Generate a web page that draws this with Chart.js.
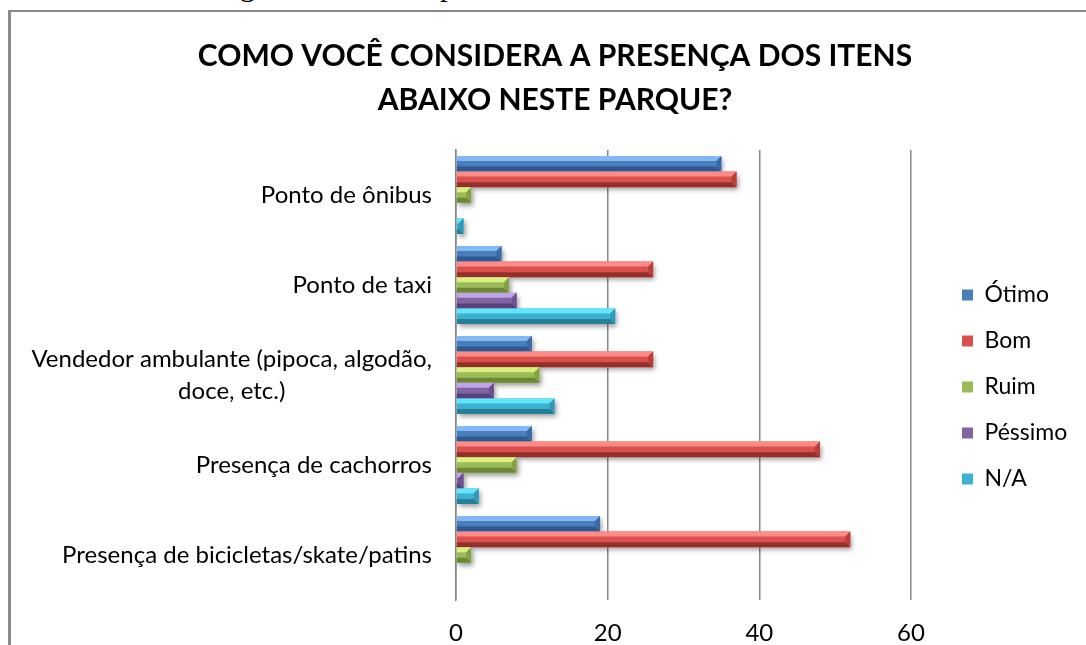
<!DOCTYPE html>
<html>
<head>
<meta charset="utf-8">
<script src="https://cdn.jsdelivr.net/npm/chart.js"></script>
<style>
body { margin: 0; background: #fff; }
#pagina { position: relative; width: 1086px; height: 645px; overflow: hidden; background: #fff; }
#moldura { position: absolute; left: 8px; top: 10px; width: 1200px; height: 800px; border-left: 3px solid #8a8a8a; border-top: 2px solid #8a8a8a; }
.texto-doc { position: absolute; top: -29px; font-family: "Liberation Serif"; font-size: 30px; line-height: 30px; color: #000; }
canvas { position: absolute; left: 0; top: 0; }
</style>
</head>
<body>
<div id="pagina">
  <div id="moldura"></div>
  <span class="texto-doc" style="left:240px">g</span>
  <span class="texto-doc" style="left:440px">p</span>
  <canvas id="grafico_itens" width="1086" height="645"></canvas>
</div>
<script>
var titulo = ['COMO VOCÊ CONSIDERA A PRESENÇA DOS ITENS', 'ABAIXO NESTE PARQUE?'];
var categorias = [
    'Ponto de ônibus',
    'Ponto de taxi',
    ['Vendedor ambulante (pipoca, algodão,', 'doce, etc.)'],
    'Presença de cachorros',
    'Presença de bicicletas/skate/patins'
];
var series = ['Ótimo', 'Bom', 'Ruim', 'Péssimo', 'N/A'];
var otimo = [35, 6, 10, 10, 19];
var bom = [37, 26, 26, 48, 52];
var ruim = [2, 7, 11, 8, 2];
var pessimo = [0, 8, 5, 1, 0];
var na = [1, 21, 13, 3, 0];
var ticksX = [0, 20, 40, 60];

// cores: face da barra, chanfro claro (cima), chanfro escuro (baixo), ponta
var corFace = ['#4a7ebb', '#d9504c', '#9bbb59', '#8064a2', '#3eb0d0'];
var corClaro = ['#82b8f5', '#ff8a86', '#d8f080', '#c0a3e8', '#62e6fb'];
var corEscuro = ['#2c5a92', '#942f2c', '#6a8830', '#58417a', '#267e98'];
var corPonta = ['#3a6aa6', '#b83f3b', '#84a244', '#6c528e', '#3298b6'];

var fonte = 'Lato';

function caixa(barra) {
    var p = barra.getProps(['x', 'y', 'base', 'height'], true);
    var x0 = Math.min(p.x, p.base), x1 = Math.max(p.x, p.base);
    return { x: x0, y: p.y - p.height / 2, w: x1 - x0, h: p.height };
}

function poligono(ctx, pontos, cor) {
    ctx.beginPath();
    ctx.moveTo(pontos[0][0], pontos[0][1]);
    for (var k = 1; k < pontos.length; k++) ctx.lineTo(pontos[k][0], pontos[k][1]);
    ctx.closePath();
    ctx.fillStyle = cor;
    ctx.fill();
}

// sombra e chanfro das barras
var relevo = {
    id: 'relevo',
    beforeDatasetsDraw: function (chart) {
        var ctx = chart.ctx;
        ctx.save();
        ctx.shadowColor = 'rgba(0,0,0,0.4)';
        ctx.shadowBlur = 5;
        ctx.shadowOffsetX = 2;
        ctx.shadowOffsetY = 3;
        ctx.fillStyle = '#fff';
        chart.getSortedVisibleDatasetMetas().forEach(function (meta) {
            meta.data.forEach(function (barra) {
                var r = caixa(barra);
                if (r.w < 0.5) return;
                ctx.fillRect(r.x, r.y, r.w, r.h);
            });
        });
        ctx.restore();
    },
    afterDatasetsDraw: function (chart) {
        var ctx = chart.ctx;
        ctx.save();
        chart.getSortedVisibleDatasetMetas().forEach(function (meta) {
            var i = meta.index;
            meta.data.forEach(function (barra) {
                var r = caixa(barra);
                if (r.w < 0.5) return;
                var b = Math.min(r.h * 0.32, r.w);
                var x1 = r.x + r.w, yb = r.y + r.h;
                poligono(ctx, [[r.x, r.y], [x1, r.y], [x1 - b, r.y + b], [r.x, r.y + b]], corClaro[i]);
                poligono(ctx, [[r.x, yb], [x1, yb], [x1 - b, yb - b], [r.x, yb - b]], corEscuro[i]);
                poligono(ctx, [[x1, r.y], [x1, yb], [x1 - b, yb - b], [x1 - b, r.y + b]], corPonta[i]);
            });
        });
        ctx.restore();
    }
};

// rotulos das categorias: bloco alinhado a direita, linhas centralizadas
var rotulosY = {
    id: 'rotulosY',
    afterDraw: function (chart) {
        var ctx = chart.ctx, escala = chart.scales.y;
        var direita = chart.chartArea.left - 24;
        ctx.save();
        ctx.font = '24px ' + fonte;
        ctx.fillStyle = '#000';
        ctx.textBaseline = 'middle';
        ctx.textAlign = 'center';
        categorias.forEach(function (rotulo, i) {
            var linhas = [].concat(rotulo);
            var largura = Math.max.apply(null, linhas.map(function (t) { return ctx.measureText(t).width; }));
            var yc = escala.getPixelForValue(i);
            linhas.forEach(function (t, k) {
                ctx.fillText(t, direita - largura / 2, yc + (k - (linhas.length - 1) / 2) * 32);
            });
        });
        ctx.restore();
    }
};

// legenda um pouco mais para a direita e para baixo
var ajusteLegenda = {
    id: 'ajusteLegenda',
    afterLayout: function (chart) {
        var l = chart.legend;
        l.left += 28; l.right += 90;
        l.top += 12; l.bottom += 12;
    }
};

var valores = [otimo, bom, ruim, pessimo, na];
var conjuntos = series.map(function (nome, i) {
    return {
        label: nome,
        data: valores[i],
        backgroundColor: corFace[i],
        borderWidth: 0,
        categoryPercentage: 0.867,
        barPercentage: 1.0
    };
});

var contexto = document.getElementById('grafico_itens').getContext('2d');
var grafico = new Chart(contexto, {
    type: 'bar',
    data: {
        labels: categorias,
        datasets: conjuntos
    },
    options: {
        indexAxis: 'y',
        responsive: false,
        animation: false,
        layout: { padding: { top: 0, right: 55, bottom: 0, left: 79 } },
        plugins: {
            title: {
                display: true,
                text: titulo,
                color: '#000',
                font: { family: fonte, size: 30, weight: 'bold', lineHeight: 1.45 },
                padding: { top: 35, bottom: 28 }
            },
            legend: {
                position: 'right',
                fullSize: false,
                maxWidth: 120,
                labels: {
                    boxWidth: 11,
                    boxHeight: 11,
                    padding: 23,
                    color: '#000',
                    font: { family: fonte, size: 23 }
                }
            },
            tooltip: { enabled: false }
        },
        scales: {
            x: {
                type: 'linear',
                min: ticksX[0],
                max: ticksX[ticksX.length - 1],
                afterBuildTicks: function (s) {
                    s.ticks = ticksX.map(function (v) { return { value: v }; });
                },
                afterFit: function (s) { s.height = 45; },
                grid: { color: '#868686', lineWidth: 1.5, drawTicks: false },
                border: { display: false },
                ticks: { color: '#000', padding: 19, font: { family: fonte, size: 24 } }
            },
            y: {
                afterFit: function (s) { s.width = 456 - 79; },
                grid: { display: false },
                border: { display: true, color: '#868686', width: 1.5 },
                ticks: { display: false }
            }
        }
    },
    plugins: [relevo, rotulosY, ajusteLegenda]
});
</script>
</body>
</html>
